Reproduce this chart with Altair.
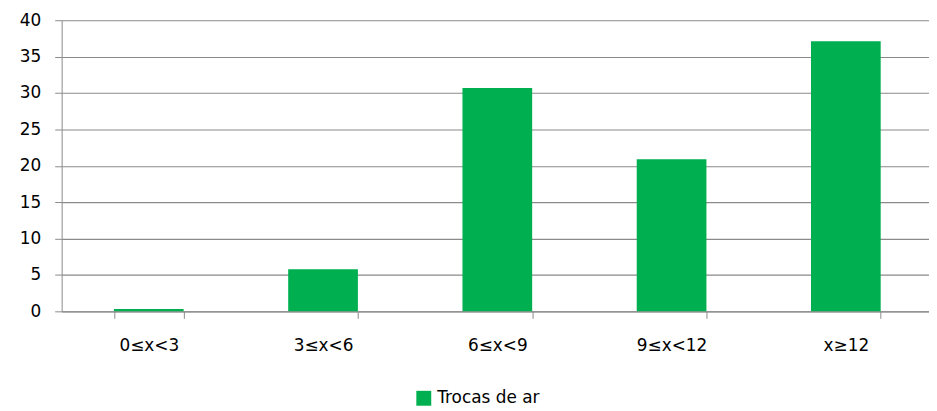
import altair as alt
import pandas as pd

categories = ["0≤x<3", "3≤x<6", "6≤x<9", "9≤x<12", "x≥12"]
values = [0.33, 5.8, 30.7, 20.9, 37.1]
series_name = "Trocas de ar"

df = pd.DataFrame({"cat": categories, "val": values, "serie": [series_name] * len(categories)})

FONT = "DejaVu Sans"
GRID = "#8a8a8a"

chart = alt.Chart(df).mark_bar(color="#00B050").encode(
    x=alt.X("cat:N", sort=categories, title=None,
            scale=alt.Scale(paddingInner=0.6, paddingOuter=0.3, range=[0, 877]),
            axis=alt.Axis(labelAngle=0, labelFontSize=17, labelFont=FONT, labelColor="#000",
                          labelPadding=19, tickSize=7, tickColor=GRID, domainColor=GRID,
                          tickBand="extent", grid=False)),
    y=alt.Y("val:Q", title=None,
            scale=alt.Scale(domain=[0, 40], nice=False),
            axis=alt.Axis(values=[0, 5, 10, 15, 20, 25, 30, 35, 40], labelFontSize=17,
                          labelFont=FONT, labelColor="#000", labelPadding=14, tickSize=7,
                          tickColor=GRID, domainColor=GRID, gridColor=GRID, gridWidth=1.2,
                          gridOpacity=1)),
    fill=alt.Fill("serie:N", scale=alt.Scale(range=["#00B050"]),
                  legend=alt.Legend(title=None, orient="none", legendX=356, legendY=372,
                                    symbolType="square", symbolSize=225, symbolStrokeWidth=0,
                                    labelFontSize=17, labelFont=FONT, labelColor="#000",
                                    labelOffset=5)),
).properties(
    width=873, height=293,
    autosize=alt.AutoSizeParams(type="none"),
    padding={"left": 54, "top": 11, "right": 0, "bottom": 99},
).configure_view(stroke=None)

chart.save("out.html", embed_options={"renderer": "svg", "actions": False})
